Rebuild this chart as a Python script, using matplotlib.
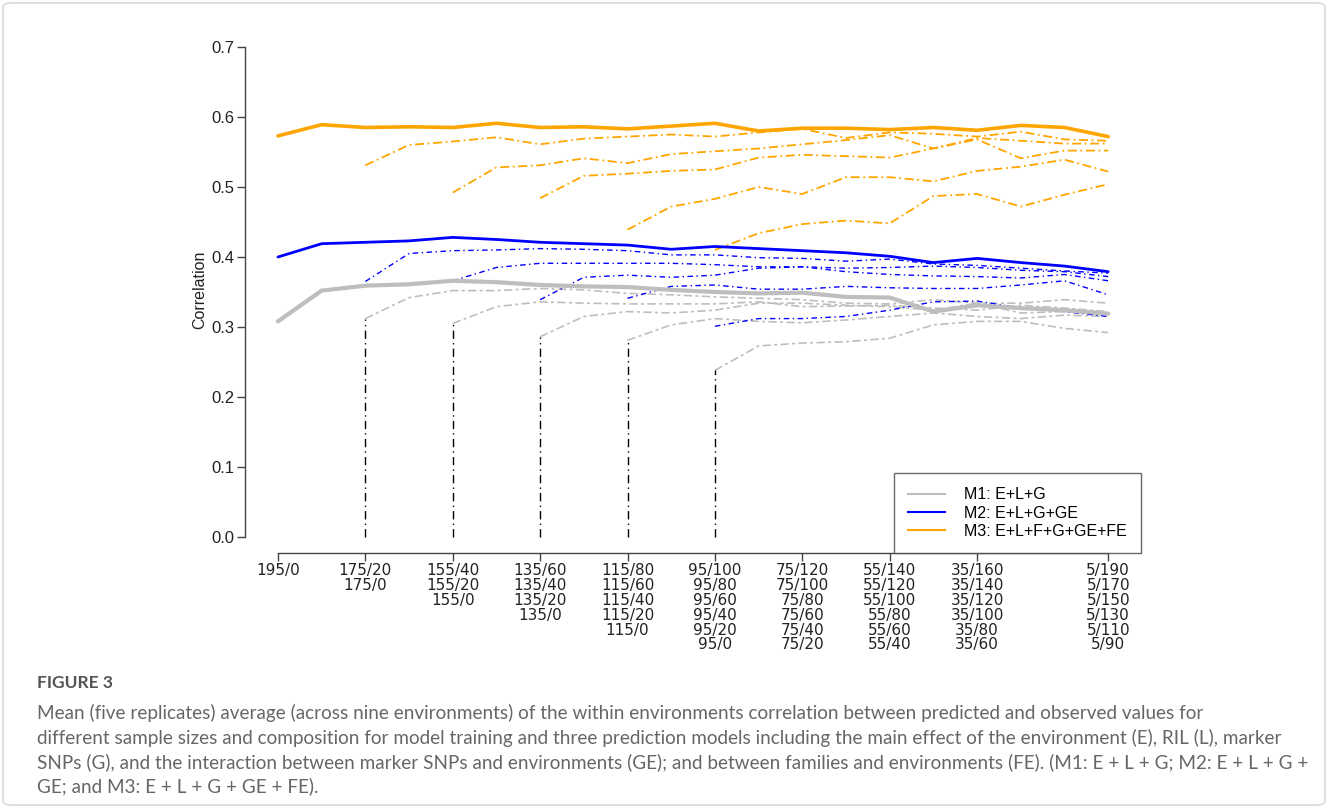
import matplotlib
matplotlib.use("Agg")
import matplotlib.pyplot as plt
from matplotlib.patches import FancyBboxPatch
from matplotlib.lines import Line2D

# training set sizes along the x axis (195 down to 5)
train_size = [195, 185, 175, 165, 155, 145, 135, 125, 115, 105,
              95, 85, 75, 65, 55, 45, 35, 25, 15, 5]

# start sizes of the reduced-training curves
subset_start = [175, 155, 135, 115, 95]

# M1: E+L+G
m1_full = [0.308, 0.352, 0.359, 0.361, 0.366, 0.364, 0.360, 0.358, 0.357, 0.353,
           0.350, 0.348, 0.349, 0.343, 0.342, 0.322, 0.331, 0.327, 0.324, 0.319]
m1_175 = [0.312, 0.342, 0.352, 0.352, 0.355, 0.353, 0.348, 0.346, 0.343,
          0.341, 0.339, 0.334, 0.333, 0.339, 0.334, 0.334, 0.339, 0.334]
m1_155 = [0.305, 0.329, 0.336, 0.334, 0.333, 0.333, 0.333, 0.336, 0.329,
          0.330, 0.331, 0.327, 0.324, 0.331, 0.327, 0.322]
m1_135 = [0.286, 0.315, 0.322, 0.320, 0.324, 0.334, 0.334, 0.331, 0.329,
          0.324, 0.334, 0.320, 0.322, 0.317]
m1_115 = [0.281, 0.303, 0.312, 0.308, 0.306, 0.310, 0.315, 0.320, 0.315,
          0.312, 0.317, 0.315]
m1_95 = [0.238, 0.273, 0.277, 0.279, 0.284, 0.303, 0.308, 0.308, 0.298, 0.292]

# M2: E+L+G+GE
m2_full = [0.400, 0.419, 0.421, 0.423, 0.428, 0.425, 0.421, 0.419, 0.417, 0.411,
           0.415, 0.412, 0.409, 0.406, 0.401, 0.392, 0.398, 0.392, 0.387, 0.379]
m2_175 = [0.365, 0.405, 0.409, 0.410, 0.412, 0.411, 0.409, 0.403, 0.403,
          0.399, 0.398, 0.394, 0.397, 0.390, 0.388, 0.384, 0.380, 0.377]
m2_155 = [0.366, 0.385, 0.391, 0.391, 0.391, 0.391, 0.389, 0.386, 0.386,
          0.384, 0.385, 0.387, 0.385, 0.381, 0.379, 0.372]
m2_135 = [0.339, 0.371, 0.374, 0.371, 0.374, 0.384, 0.386, 0.379, 0.375,
          0.373, 0.372, 0.370, 0.375, 0.366]
m2_115 = [0.341, 0.358, 0.360, 0.354, 0.354, 0.358, 0.356, 0.355, 0.355,
          0.360, 0.366, 0.346]
m2_95 = [0.301, 0.312, 0.312, 0.315, 0.324, 0.336, 0.337, 0.327, 0.322, 0.315]

# M3: E+L+F+G+GE+FE
m3_full = [0.573, 0.589, 0.585, 0.586, 0.585, 0.591, 0.585, 0.586, 0.583, 0.587,
           0.591, 0.580, 0.584, 0.584, 0.582, 0.585, 0.581, 0.588, 0.585, 0.572]
m3_175 = [0.531, 0.560, 0.565, 0.571, 0.561, 0.569, 0.572, 0.575, 0.572,
          0.578, 0.583, 0.570, 0.578, 0.576, 0.572, 0.579, 0.568, 0.566]
m3_155 = [0.492, 0.528, 0.531, 0.541, 0.534, 0.547, 0.551, 0.555, 0.561,
          0.567, 0.574, 0.555, 0.568, 0.541, 0.552, 0.552]
m3_135 = [0.484, 0.516, 0.519, 0.523, 0.525, 0.542, 0.546, 0.544, 0.542,
          0.555, 0.570, 0.566, 0.562, 0.562]
m3_115 = [0.439, 0.472, 0.483, 0.500, 0.490, 0.514, 0.514, 0.508, 0.523,
          0.529, 0.539, 0.522]
m3_95 = [0.410, 0.434, 0.447, 0.452, 0.448, 0.487, 0.490, 0.472, 0.489, 0.504]

tick_pos = [195, 175, 155, 135, 115, 95, 75, 55, 35, 5]
tick_text = [
    ["195/0"],
    ["175/20", "175/0"],
    ["155/40", "155/20", "155/0"],
    ["135/60", "135/40", "135/20", "135/0"],
    ["115/80", "115/60", "115/40", "115/20", "115/0"],
    ["95/100", "95/80", "95/60", "95/40", "95/20", "95/0"],
    ["75/120", "75/100", "75/80", "75/60", "75/40", "75/20"],
    ["55/140", "55/120", "55/100", "55/80", "55/60", "55/40"],
    ["35/160", "35/140", "35/120", "35/100", "35/80", "35/60"],
    ["5/190", "5/170", "5/150", "5/130", "5/110", "5/90"],
]

model_names = ["M1: E+L+G", "M2: E+L+G+GE", "M3: E+L+F+G+GE+FE"]

caption_title = "FIGURE 3"
caption_lines = [
    "Mean (five replicates) average (across nine environments) of the within environments correlation between predicted and observed values for",
    "different sample sizes and composition for model training and three prediction models including the main effect of the environment (E), RIL (L), marker",
    "SNPs (G), and the interaction between marker SNPs and environments (GE); and between families and environments (FE). (M1: E + L + G; M2: E + L + G +",
    "GE; and M3: E + L + G + GE + FE).",
]

GRAY = "#bebebe"
BLUE = "#0000ff"
ORANGE = "#ffa500"

models = [
    (GRAY, m1_full, [m1_175, m1_155, m1_135, m1_115, m1_95], 3.0, 1.2, (5, 2, 1.8, 2)),
    (BLUE, m2_full, [m2_175, m2_155, m2_135, m2_115, m2_95], 2.0, 1.0, (4, 2.5, 1, 2.5)),
    (ORANGE, m3_full, [m3_175, m3_155, m3_135, m3_115, m3_95], 2.6, 1.3, (5, 2, 1, 2)),
]

fig = plt.figure(figsize=(13.28, 8.08), dpi=100)
ax = fig.add_axes([0.1843, 0.3155, 0.6752, 0.6506])

for color, full, subsets, lw_full, lw_sub, dash in models:
    ax.plot(train_size, full, color=color, lw=lw_full, solid_capstyle="round",
            solid_joinstyle="round", zorder=3)
    for start, vals in zip(subset_start, subsets):
        xs = train_size[train_size.index(start):]
        ax.plot(xs, vals, color=color, lw=lw_sub, linestyle=(0, dash), zorder=2)

# drop lines from zero up to the first M1 value of each reduced curve
for start, vals in zip(subset_start, [m1_175, m1_155, m1_135, m1_115, m1_95]):
    ax.plot([start, start], [0, vals[0]], color="black", lw=1.0,
            linestyle=(0, (6, 3, 1, 3)), zorder=2)

ax.set_xlim(202.6, -2.6)
ax.set_ylim(-0.023, 0.728)

for side in ["top", "right"]:
    ax.spines[side].set_visible(False)
ax.spines["left"].set_bounds(0, 0.7)
ax.spines["bottom"].set_bounds(195, 5)
for side in ["left", "bottom"]:
    ax.spines[side].set_color("#444444")
    ax.spines[side].set_linewidth(1.0)

ax.set_yticks([0.0, 0.1, 0.2, 0.3, 0.4, 0.5, 0.6, 0.7])
ax.set_yticklabels(["0.0", "0.1", "0.2", "0.3", "0.4", "0.5", "0.6", "0.7"],
                   fontsize=12, family="Liberation Sans", color="#222222")
ax.set_xticks(tick_pos)
ax.set_xticklabels(["\n".join(t) for t in tick_text], fontsize=11,
                   family="Liberation Sans Narrow", color="#222222",
                   va="top", ha="center")
for t in ax.get_xticklabels():
    t.set_linespacing(0.98)
ax.tick_params(axis="both", direction="out", length=5.5, width=1.0, color="#444444")
ax.tick_params(axis="y", pad=2)
ax.tick_params(axis="x", pad=2)

ax.set_ylabel("Correlation", fontsize=11.5, family="Liberation Sans",
              color="#222222", labelpad=3)

handles = [Line2D([0], [0], color=c, lw=1.5) for c in (GRAY, BLUE, ORANGE)]
leg = ax.legend(handles, model_names, loc="lower right", bbox_to_anchor=(1.0, 0.0),
                frameon=True, fancybox=False, edgecolor="#444444",
                prop={"family": "Liberation Sans", "size": 11.5},
                handlelength=2.3, handletextpad=1.2, labelspacing=0.2,
                borderpad=0.9, borderaxespad=0.0)
leg.get_frame().set_linewidth(1.0)

# caption below the chart
fig.text(37 / 1328, 1 - 683 / 808, caption_title, fontsize=12.5, family="Lato",
         weight="bold", color="#555555", va="center", ha="left")
for i, line in enumerate(caption_lines):
    fig.text(37 / 1328, 1 - (713 + 24.5 * i) / 808, line, fontsize=13.6,
             family="Lato", color="#666666", va="center", ha="left")

# thin frame around the whole panel
frame = FancyBboxPatch((3 / 1328, 3 / 808), 1322 / 1328, 802 / 808,
                       boxstyle="round,pad=0,rounding_size=0.006",
                       transform=fig.transFigure, fill=False,
                       edgecolor="#d0d0d0", lw=1.0)
fig.patches.append(frame)

fig.savefig("out.png", dpi=100)
